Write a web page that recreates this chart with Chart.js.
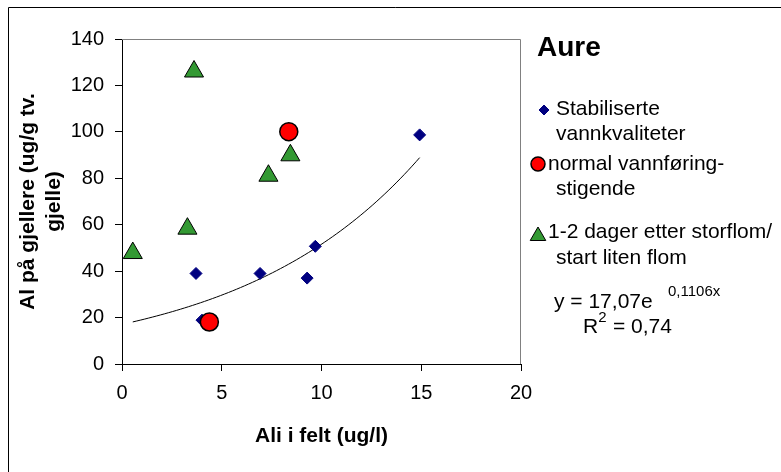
<!DOCTYPE html>
<html>
<head>
<meta charset="utf-8">
<script src="https://cdn.jsdelivr.net/npm/chart.js@4.4.1/dist/chart.umd.min.js"></script>
<style>
  html, body { margin: 0; padding: 0; background: #fff; }
</style>
</head>
<body>
<canvas id="chart" width="781" height="472"></canvas>
<script>
// values
const stabX = [3.71, 4.01, 6.92, 9.28, 9.69, 14.92];
const stabY = [39.0, 18.9, 39.0, 37.0, 50.7, 98.7];
const normalX = [8.36, 4.38];
const normalY = [100.1, 18.1];
const flomX = [0.54, 3.28, 3.61, 7.34, 8.44];
const flomY = [47.8, 58.3, 126.0, 81.1, 89.9];

// exponential trendline as printed on the chart: y = 17,07e^(0,1106x)
const trendA = 17.07;
const trendB = 0.1106;
const trendFrom = 0.54;
const trendTo = 14.92;

const seriesNames = ['Stabiliserte', 'normal vannføring-', '1-2 dager etter storflom/'];

const FONT = "'Liberation Sans', Arial, sans-serif";
Chart.defaults.font.family = FONT;
Chart.defaults.color = '#000';

function pts(xs, ys) {
  return xs.map((x, i) => ({x: x, y: ys[i]}));
}

const trend = [];
for (let x = trendFrom; x < trendTo; x += 0.2) {
  trend.push({x: x, y: trendA * Math.exp(trendB * x)});
}
trend.push({x: trendTo, y: trendA * Math.exp(trendB * trendTo)});

const navy = '#000080';
const red = '#ff0000';
const green = '#339933';

const decor = {
  id: 'decor',
  afterDraw(chart) {
    const {ctx, chartArea: a} = chart;
    ctx.save();
    // outer frame (right/bottom run off the picture)
    ctx.strokeStyle = '#000';
    ctx.lineWidth = 1;
    ctx.beginPath();
    ctx.moveTo(8.5, 480);
    ctx.lineTo(8.5, 7.5);
    ctx.lineTo(790, 7.5);
    ctx.stroke();
    // grey plot frame, top and right
    ctx.strokeStyle = '#808080';
    ctx.beginPath();
    ctx.moveTo(a.left, a.top + 0.5);
    ctx.lineTo(a.right - 0.5, a.top + 0.5);
    ctx.lineTo(a.right - 0.5, a.bottom);
    ctx.stroke();

    ctx.fillStyle = '#000';
    ctx.textAlign = 'left';
    ctx.textBaseline = 'middle';
    ctx.font = 'bold 28px ' + FONT;
    ctx.fillText('Aure', 537, 48);

    const mark = (style, r, fill, stroke, bw, x, y) => {
      ctx.fillStyle = fill;
      ctx.strokeStyle = stroke;
      ctx.lineWidth = bw;
      Chart.helpers.drawPoint(ctx, {pointStyle: style, radius: r, borderWidth: bw, rotation: 0}, x, y);
    };
    mark('rectRot', 5, navy, navy, 1, 544, 110);
    mark('circle', 7, red, '#000', 1.5, 538, 164);
    mark('triangle', 9, green, '#000', 1, 538, 236);

    ctx.fillStyle = '#000';
    ctx.font = '21px ' + FONT;
    ctx.fillText(seriesNames[0], 556, 109);
    ctx.fillText('vannkvaliteter', 556, 134);
    ctx.fillText(seriesNames[1], 548, 164);
    ctx.fillText('stigende', 556, 189);
    ctx.fillText(seriesNames[2], 548, 232);
    ctx.fillText('start liten flom', 556, 258);

    ctx.fillText('y = 17,07e', 554, 302);
    ctx.fillText('R', 583, 327);
    const rw = ctx.measureText('R').width;
    ctx.fillText(' = 0,74', 583 + rw + 9, 327);
    ctx.font = '15px ' + FONT;
    ctx.fillText('0,1106x', 668, 292);
    ctx.fillText('2', 583 + rw, 318);
    ctx.restore();
  }
};

new Chart(document.getElementById('chart'), {
  type: 'scatter',
  data: {
    datasets: [
      {
        label: seriesNames[0],
        data: pts(stabX, stabY),
        pointStyle: 'rectRot',
        pointRadius: 6,
        pointHoverRadius: 6,
        backgroundColor: navy,
        borderColor: navy,
        borderWidth: 1,
        order: 3
      },
      {
        label: seriesNames[1],
        data: pts(normalX, normalY),
        pointStyle: 'circle',
        pointRadius: 9,
        pointHoverRadius: 9,
        backgroundColor: red,
        borderColor: '#000',
        borderWidth: 1.5,
        order: 2
      },
      {
        label: seriesNames[2],
        data: pts(flomX, flomY),
        pointStyle: 'triangle',
        pointRadius: 11,
        pointHoverRadius: 11,
        backgroundColor: green,
        borderColor: '#000',
        borderWidth: 1,
        order: 1
      },
      {
        label: 'Ekspon.',
        type: 'line',
        data: trend,
        borderColor: '#000',
        borderWidth: 1,
        pointRadius: 0,
        fill: false,
        tension: 0,
        order: 4
      }
    ]
  },
  options: {
    responsive: false,
    animation: false,
    layout: {padding: {left: 0, top: 39, right: 260, bottom: 0}},
    plugins: {
      legend: {display: false},
      tooltip: {enabled: false}
    },
    scales: {
      x: {
        type: 'linear',
        min: 0,
        max: 20,
        ticks: {stepSize: 5, font: {size: 20}, color: '#000', padding: 10},
        grid: {drawOnChartArea: false, tickLength: 7, color: '#000'},
        border: {color: '#000', width: 1},
        title: {
          display: true,
          text: 'Ali i felt (ug/l)',
          font: {size: 21, weight: 'bold'},
          color: '#000',
          padding: {bottom: 23}
        },
        afterFit(s) { s.height = 108; }
      },
      y: {
        min: 0,
        max: 140,
        ticks: {stepSize: 20, font: {size: 20}, color: '#000', padding: 11},
        grid: {drawOnChartArea: false, tickLength: 7, color: '#000'},
        border: {color: '#000', width: 1},
        title: {
          display: true,
          text: ['Al på gjellere (ug/g tv.', 'gjelle)'],
          font: {size: 21, weight: 'bold'},
          color: '#000',
          padding: {top: 16}
        },
        afterFit(s) { s.width = 122; }
      }
    }
  },
  plugins: [decor]
});
</script>
</body>
</html>
